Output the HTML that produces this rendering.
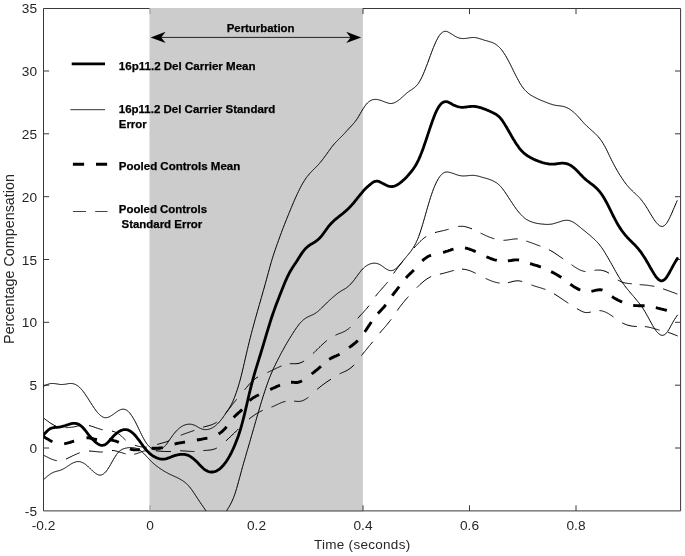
<!DOCTYPE html>
<html lang="en">
<head>
<meta charset="utf-8">
<title>Percentage Compensation vs Time</title>
<style>
html,body{margin:0;padding:0;background:#ffffff;}
body{width:685px;height:556px;overflow:hidden;}
svg{display:block;will-change:transform;}
text{font-family:"Liberation Sans",Arial,Helvetica,sans-serif;}
.tick{font-size:13.7px;fill:#262626;}
.axl{font-size:14px;fill:#262626;}
.leg{font-size:11.4px;font-weight:bold;fill:#000000;stroke:#000000;stroke-width:0.25px;}
</style>
</head>
<body>
<svg width="685" height="556" viewBox="0 0 685 556">
<defs><clipPath id="plot"><rect x="43.5" y="8.5" width="637.1" height="502.4"/></clipPath></defs>
<rect x="0" y="0" width="685" height="556" fill="#ffffff"/>

<g stroke="#383838" stroke-width="1" fill="none">
<path d="M43.5,510.9 L43.5,8.5 L680.6,8.5 L680.6,510.9"/>
</g>
<rect x="149.5" y="8.0" width="213.35" height="502.6" fill="#cccccc"/>
<g stroke="#383838" stroke-width="1" fill="none">
<path d="M43.5,510.9 L680.6,510.9"/>
<path d="M149.5,510.9 L362.85,510.9" stroke="#8a8a8a" stroke-width="1.3"/>
<path d="M150.0,510.9 v-5.6 M150.0,8.5 v5.6" stroke="#9a9a9a"/>
<path d="M363.0,510.9 v-5.6 M363.0,8.5 v5.6"/>
<path d="M469.5,510.9 v-5.6 M469.5,8.5 v5.6"/>
<path d="M576.0,510.9 v-5.6 M576.0,8.5 v5.6"/>
<path d="M43.5,448.0 h5.6 M680.6,448.0 h-5.6"/>
<path d="M43.5,385.2 h5.6 M680.6,385.2 h-5.6"/>
<path d="M43.5,322.3 h5.6 M680.6,322.3 h-5.6"/>
<path d="M43.5,259.5 h5.6 M680.6,259.5 h-5.6"/>
<path d="M43.5,196.7 h5.6 M680.6,196.7 h-5.6"/>
<path d="M43.5,133.8 h5.6 M680.6,133.8 h-5.6"/>
<path d="M43.5,71.0 h5.6 M680.6,71.0 h-5.6"/>
</g>
<g clip-path="url(#plot)" fill="none" stroke="#000000" stroke-linejoin="round">
<path stroke-width="1" d="M43.7,418.2 L44.7,418.9 L45.8,419.7 L46.8,420.5 L47.8,421.2 L48.9,422.0 L49.9,422.7 L50.9,423.4 L52.0,424.0 L53.0,424.6 L54.0,425.2 L55.1,425.7 L56.1,426.1 M65.5,427.6 L66.5,427.6 L67.6,427.6 L68.6,427.5 L69.6,427.4 L70.7,427.3 L71.7,427.2 L72.8,427.1 L73.8,426.9 L74.8,426.7 L75.9,426.5 L76.9,426.2 L77.9,426.0 L79.0,425.8 L80.0,425.6 M89.0,425.5 L90.0,425.8 L91.0,426.0 L91.9,426.3 L92.9,426.6 L93.9,427.0 L94.9,427.3 L95.8,427.7 L96.8,428.0 L97.8,428.4 L98.8,428.7 L99.8,429.0 L100.7,429.3 L101.7,429.6 L102.7,429.8 M112.0,431.1 L113.0,431.3 L113.9,431.6 L114.9,432.0 L115.9,432.4 L116.9,432.8 L117.8,433.4 L118.8,434.0 L119.8,434.7 L120.7,435.5 L121.7,436.4 L122.7,437.4 L123.7,438.3 L124.6,439.2 L125.6,440.1 M134.9,445.2 L135.9,445.6 L136.9,445.9 L137.8,446.2 L138.8,446.4 L139.8,446.6 L140.8,446.8 L141.8,446.9 L142.8,447.1 L143.8,447.1 L144.7,447.1 L145.7,447.1 L146.7,447.1 M157.2,444.4 L158.2,444.2 L159.2,443.9 L160.1,443.6 L161.1,443.3 L162.1,443.1 L163.1,442.8 L164.1,442.5 L165.1,442.2 L166.1,441.9 L167.0,441.6 L168.0,441.2 L169.0,440.9 M180.8,435.3 L181.8,434.9 L182.7,434.5 L183.7,434.1 L184.7,433.8 L185.7,433.4 L186.6,433.1 L187.6,432.7 L188.6,432.4 L189.5,432.1 L190.5,431.7 L191.5,431.4 L192.5,431.1 L193.4,430.7 L194.4,430.4 M203.1,427.2 L204.1,426.9 L205.0,426.6 L206.0,426.4 L207.0,426.1 L208.0,425.9 L208.9,425.6 L209.9,425.3 L210.9,425.0 L211.8,424.7 L212.8,424.3 L213.8,423.8 L214.8,423.3 L215.7,422.8 L216.7,422.1 M225.4,413.5 L226.4,412.3 L227.4,411.0 L228.5,409.7 L229.5,408.4 L230.5,407.1 L231.5,405.7 L232.5,404.4 L233.5,403.1 L234.6,401.8 L235.6,400.5 L236.6,399.3 M244.6,389.8 L245.6,388.6 L246.7,387.3 L247.7,386.1 L248.7,384.9 L249.8,383.7 L250.8,382.6 L251.8,381.5 L252.8,380.5 L253.9,379.7 L254.9,378.9 L255.9,378.2 L257.0,377.5 L258.0,377.0 M267.5,372.5 L268.5,372.0 L269.5,371.5 L270.5,371.1 L271.5,370.6 L272.5,370.1 L273.5,369.6 L274.5,369.1 L275.5,368.7 L276.5,368.2 L277.5,367.7 L278.5,367.3 L279.5,366.8 L280.5,366.4 L281.5,366.0 M289.8,363.7 L290.8,363.7 L291.8,363.7 L292.9,363.7 L293.9,363.7 L294.9,363.7 L295.9,363.7 L297.0,363.6 L298.0,363.5 L299.0,363.3 L300.0,362.9 L301.0,362.6 L302.1,362.1 L303.1,361.6 L304.1,361.0 M313.1,353.5 L314.1,352.6 L315.1,351.6 L316.0,350.6 L317.0,349.7 L318.0,348.7 L319.0,347.7 L320.0,346.8 L320.9,345.8 L321.9,344.9 L322.9,344.0 L323.9,343.1 L324.8,342.2 L325.8,341.4 L326.8,340.6 M335.5,335.2 L336.5,334.7 L337.5,334.3 L338.5,333.9 L339.4,333.5 L340.4,333.2 L341.4,332.8 L342.4,332.4 L343.4,331.9 L344.4,331.5 L345.4,330.9 L346.4,330.3 L347.3,329.7 L348.3,329.0 L349.3,328.2 L350.3,327.2 M357.8,318.4 L358.8,317.2 L359.8,316.0 L360.9,314.9 L361.9,313.8 L362.9,312.8 L363.9,311.7 L364.9,310.5 L365.9,309.4 L367.0,308.2 L368.0,306.9 L369.0,305.6 M375.5,296.3 L376.5,295.0 L377.5,293.7 L378.5,292.5 L379.5,291.4 L380.5,290.3 L381.5,289.1 L382.5,288.0 L383.5,286.9 L384.5,285.8 L385.5,284.6 L386.5,283.4 L387.5,282.2 M393.6,273.5 L394.6,272.0 L395.7,270.5 L396.7,269.1 L397.8,267.7 L398.8,266.3 L399.9,265.0 L400.9,263.6 L402.0,262.3 L403.0,261.0 M414.1,248.0 L415.1,246.8 L416.1,245.7 L417.1,244.6 L418.1,243.6 L419.1,242.5 L420.1,241.5 L421.2,240.6 L422.2,239.6 L423.2,238.7 L424.2,237.9 L425.2,237.2 L426.2,236.5 M435.0,232.6 L436.0,232.3 L436.9,232.1 L437.9,231.8 L438.9,231.6 L439.9,231.4 L440.8,231.2 L441.8,231.0 L442.8,230.7 L443.7,230.5 L444.7,230.3 L445.7,230.0 L446.7,229.8 L447.6,229.5 L448.6,229.2 M458.3,226.5 L459.3,226.3 L460.3,226.3 L461.2,226.3 L462.2,226.3 L463.2,226.4 L464.2,226.5 L465.1,226.7 L466.1,226.9 L467.1,227.2 L468.1,227.5 L469.1,227.8 L470.0,228.1 L471.0,228.5 L472.0,228.9 M480.6,233.1 L481.6,233.6 L482.6,234.0 L483.5,234.5 L484.5,235.0 L485.5,235.4 L486.5,235.9 L487.5,236.3 L488.4,236.7 L489.4,237.1 L490.4,237.5 L491.4,237.8 L492.3,238.2 L493.3,238.5 L494.3,238.8 M503.5,240.3 L504.5,240.3 L505.5,240.2 L506.5,240.1 L507.6,240.0 L508.6,239.8 L509.6,239.7 L510.6,239.5 L511.6,239.4 L512.6,239.2 L513.6,239.1 L514.7,239.0 L515.7,238.9 L516.7,238.9 L517.7,239.0 M526.4,241.1 L527.4,241.4 L528.4,241.8 L529.4,242.1 L530.4,242.5 L531.4,242.8 L532.4,243.2 L533.4,243.6 L534.4,243.9 L535.4,244.3 L536.4,244.7 L537.4,245.1 L538.4,245.4 L539.4,245.8 L540.4,246.2 M548.9,249.7 L549.9,250.3 L550.9,250.8 L552.0,251.4 L553.0,252.0 L554.0,252.6 L555.0,253.3 L556.0,254.0 L557.1,254.7 L558.1,255.3 L559.1,256.1 L560.1,256.8 L561.2,257.5 L562.2,258.2 L563.2,258.9 M571.5,264.7 L572.5,265.4 L573.5,266.1 L574.5,266.8 L575.5,267.4 L576.5,268.0 L577.5,268.6 L578.5,269.2 L579.4,269.7 L580.4,270.1 L581.4,270.5 L582.4,270.9 L583.4,271.2 L584.4,271.4 L585.4,271.5 M594.6,270.4 L595.6,270.2 L596.7,270.1 L597.7,270.1 L598.7,270.1 L599.8,270.1 L600.8,270.2 L601.9,270.4 L602.9,270.6 L603.9,270.9 L605.0,271.2 L606.0,271.6 L607.0,272.1 L608.1,272.7 L609.1,273.3 M617.8,280.0 L618.8,280.6 L619.8,281.1 L620.8,281.6 L621.8,282.0 L622.8,282.3 L623.8,282.6 L624.8,282.9 L625.7,283.1 L626.7,283.2 L627.7,283.4 L628.7,283.5 L629.7,283.6 L630.7,283.7 L631.7,283.8 M639.7,284.6 L640.7,284.7 L641.6,284.8 L642.6,284.8 L643.6,284.9 L644.6,285.0 L645.5,285.1 L646.5,285.2 L647.5,285.3 L648.5,285.4 L649.4,285.6 L650.4,285.7 L651.4,285.9 L652.4,286.0 L653.3,286.2 L654.3,286.4 M663.1,288.9 L664.1,289.2 L665.1,289.6 L666.1,289.9 L667.2,290.3 L668.2,290.7 L669.2,291.0 L670.2,291.4 L671.2,291.8 L672.2,292.2 L673.2,292.5 L674.3,292.9 L675.3,293.3 L676.3,293.7 L677.3,294.1"/>
<path stroke-width="1" d="M43.7,455.4 L44.7,455.8 L45.7,456.3 L46.7,456.8 L47.7,457.3 L48.7,457.8 L49.7,458.3 L50.7,458.7 L51.7,459.2 L52.7,459.5 L53.7,459.9 L54.7,460.2 L55.7,460.5 L56.7,460.7 M66.0,459.1 L67.0,458.6 L68.0,458.1 L68.9,457.7 L69.9,457.2 L70.9,456.7 L71.9,456.2 L72.8,455.7 L73.8,455.3 L74.8,454.8 L75.8,454.4 L76.8,454.0 L77.7,453.5 L78.7,453.2 L79.7,452.8 M89.0,451.0 L90.0,451.1 L91.0,451.1 L91.9,451.2 L92.9,451.3 L93.9,451.4 L94.9,451.5 L95.8,451.6 L96.8,451.7 L97.8,451.8 L98.8,451.9 L99.8,452.0 L100.7,452.0 L101.7,452.0 L102.7,451.9 M112.0,450.5 L113.0,450.5 L113.9,450.6 L114.9,450.8 L115.9,451.0 L116.9,451.2 L117.8,451.5 L118.8,451.8 L119.8,452.1 L120.7,452.4 L121.7,452.7 L122.7,453.0 L123.7,453.3 L124.6,453.6 L125.6,453.9 M134.3,454.2 L135.3,454.0 L136.3,453.7 L137.4,453.4 L138.4,453.0 L139.4,452.7 L140.4,452.3 L141.4,451.9 L142.4,451.6 L143.4,451.2 L144.5,451.0 L145.5,450.7 L146.5,450.6 M156.0,450.8 L157.0,450.9 L158.0,451.0 L159.0,451.1 L160.0,451.1 L161.0,451.2 L162.0,451.3 L163.0,451.4 L163.9,451.4 L164.9,451.5 L165.9,451.5 L166.9,451.5 L167.9,451.5 L168.9,451.5 L169.9,451.5 L170.9,451.5 M180.2,450.8 L181.2,450.8 L182.2,450.9 L183.2,450.9 L184.3,451.0 L185.3,451.0 L186.3,451.1 L187.3,451.2 L188.3,451.3 L189.3,451.3 L190.3,451.4 L191.4,451.4 L192.4,451.5 L193.4,451.5 L194.4,451.5 M203.3,450.6 L204.3,450.5 L205.2,450.4 L206.2,450.4 L207.2,450.3 L208.1,450.2 L209.1,450.1 L210.1,450.0 L211.0,449.9 L212.0,449.7 L212.9,449.5 L213.9,449.2 L214.9,448.9 L215.8,448.5 L216.8,448.0 M226.0,440.8 L227.0,439.9 L228.1,438.9 L229.1,437.9 L230.1,437.0 L231.2,436.0 L232.2,435.0 L233.2,434.0 L234.3,433.0 L235.3,432.0 L236.3,431.0 L237.4,430.0 L238.4,429.0 M249.0,419.1 L250.0,418.3 L250.9,417.5 L251.9,416.8 L252.9,416.1 L253.9,415.4 L254.8,414.7 L255.8,414.1 L256.8,413.5 L257.7,412.9 L258.7,412.3 L259.7,411.8 L260.7,411.3 L261.6,410.9 L262.6,410.4 M271.5,407.1 L272.5,406.7 L273.5,406.3 L274.5,405.8 L275.5,405.3 L276.5,404.9 L277.5,404.4 L278.5,403.9 L279.5,403.5 L280.5,403.0 L281.5,402.6 L282.5,402.2 L283.5,401.9 L284.5,401.6 L285.5,401.4 M294.2,401.1 L295.2,401.2 L296.2,401.3 L297.2,401.4 L298.3,401.4 L299.3,401.4 L300.3,401.3 L301.3,401.1 L302.3,400.8 L303.3,400.4 L304.3,399.9 L305.4,399.3 L306.4,398.7 L307.4,398.0 L308.4,397.2 M317.1,389.4 L318.1,388.5 L319.1,387.7 L320.1,386.9 L321.1,386.1 L322.1,385.3 L323.1,384.6 L324.1,383.9 L325.0,383.2 L326.0,382.5 L327.0,381.8 L328.0,381.1 L329.0,380.5 L330.0,379.8 L331.0,379.2 M339.6,373.9 L340.6,373.4 L341.7,372.9 L342.7,372.4 L343.7,372.0 L344.8,371.5 L345.8,371.0 L346.9,370.5 L347.9,369.9 L348.9,369.2 L350.0,368.5 L351.0,367.7 L352.0,366.9 L353.1,365.9 L354.1,364.8 M361.5,355.6 L362.5,354.3 L363.5,353.0 L364.6,351.7 L365.6,350.5 L366.6,349.2 L367.6,348.0 L368.6,346.8 L369.6,345.5 L370.7,344.3 L371.7,343.0 L372.7,341.8 M379.6,333.2 L380.6,332.0 L381.5,330.9 L382.5,329.8 L383.5,328.7 L384.4,327.6 L385.4,326.5 L386.4,325.4 L387.3,324.2 L388.3,323.0 L389.3,321.8 L390.2,320.6 L391.2,319.3 M397.2,310.6 L398.2,309.2 L399.2,307.8 L400.3,306.4 L401.3,305.1 L402.3,303.8 L403.3,302.5 L404.3,301.3 L405.3,300.1 L406.4,298.9 L407.4,297.7 L408.4,296.6 M416.9,287.6 L417.9,286.6 L418.9,285.6 L419.9,284.6 L421.0,283.7 L422.0,282.8 L423.0,281.9 L424.0,281.1 L425.0,280.3 L426.0,279.5 L427.0,278.8 L428.1,278.2 L429.1,277.6 L430.1,277.0 L431.1,276.6 M439.9,274.1 L440.9,273.9 L441.9,273.7 L442.9,273.4 L443.8,273.2 L444.8,272.9 L445.8,272.7 L446.8,272.4 L447.8,272.1 L448.8,271.8 L449.8,271.6 L450.7,271.3 L451.7,271.0 L452.7,270.7 L453.7,270.5 M462.0,269.1 L463.0,269.2 L464.0,269.3 L464.9,269.4 L465.9,269.6 L466.9,269.8 L467.9,270.1 L468.9,270.4 L469.8,270.7 L470.8,271.1 L471.8,271.5 L472.8,271.9 L473.7,272.4 L474.7,272.8 L475.7,273.3 M485.6,278.4 L486.6,278.9 L487.6,279.3 L488.6,279.8 L489.6,280.2 L490.6,280.6 L491.6,281.0 L492.6,281.4 L493.6,281.7 L494.6,282.0 L495.6,282.3 L496.6,282.5 L497.6,282.7 L498.6,282.9 L499.6,283.0 M507.9,282.7 L508.9,282.5 L509.9,282.2 L511.0,282.0 L512.0,281.7 L513.0,281.4 L514.0,281.2 L515.0,281.0 L516.1,280.9 L517.1,280.8 L518.1,280.8 L519.1,280.9 L520.2,281.1 L521.2,281.3 L522.2,281.5 M531.4,284.9 L532.4,285.3 L533.4,285.7 L534.4,286.0 L535.4,286.3 L536.4,286.6 L537.4,286.9 L538.4,287.2 L539.4,287.5 L540.4,287.8 L541.4,288.1 L542.4,288.4 L543.4,288.8 L544.4,289.1 L545.4,289.5 M554.0,293.8 L555.0,294.4 L556.0,295.0 L557.1,295.7 L558.1,296.3 L559.1,297.0 L560.1,297.7 L561.1,298.4 L562.2,299.1 L563.2,299.8 L564.2,300.5 L565.2,301.1 L566.3,301.8 L567.3,302.5 L568.3,303.2 M576.9,308.6 L577.9,309.2 L578.9,309.8 L579.9,310.3 L580.9,310.9 L581.9,311.3 L582.9,311.8 L583.8,312.1 L584.8,312.4 L585.8,312.5 L586.8,312.6 L587.8,312.5 L588.8,312.4 L589.8,312.3 L590.8,312.0 M599.5,310.6 L600.5,310.7 L601.5,310.8 L602.5,311.1 L603.5,311.4 L604.5,311.7 L605.5,312.1 L606.5,312.6 L607.5,313.1 L608.5,313.7 L609.5,314.3 L610.5,315.0 L611.5,315.6 L612.5,316.3 L613.5,317.0 M622.2,322.9 L623.2,323.4 L624.1,323.8 L625.1,324.2 L626.1,324.6 L627.1,325.0 L628.0,325.2 L629.0,325.5 L630.0,325.7 L631.0,325.9 L631.9,326.1 L632.9,326.2 L633.9,326.3 L634.9,326.4 L635.8,326.4 L636.8,326.5 M644.9,326.6 L645.9,326.7 L646.8,326.8 L647.8,327.0 L648.8,327.2 L649.8,327.4 L650.7,327.6 L651.7,327.9 L652.7,328.2 L653.7,328.4 L654.6,328.7 L655.6,329.0 L656.6,329.3 L657.6,329.6 L658.5,329.9 L659.5,330.2 M668.2,332.4 L669.2,332.7 L670.1,333.0 L671.1,333.4 L672.0,333.7 L673.0,334.1 L673.9,334.5 L674.9,334.8 L675.8,335.2 L676.8,335.6 L677.7,336.0"/>
<path stroke-width="1" d="M43.5,386.3 L44.5,385.8 L45.5,385.3 L46.5,384.8 L47.5,384.4 L48.5,384.1 L49.5,383.8 L50.5,383.6 L51.5,383.5 L52.5,383.5 L53.5,383.5 L54.5,383.6 L55.5,383.7 L56.5,383.9 L57.5,384.0 L58.5,384.2 L59.5,384.4 L60.5,384.5 L61.5,384.5 L62.5,384.5 L63.5,384.4 L64.5,384.3 L65.5,384.2 L66.5,384.0 L67.5,383.8 L68.5,383.6 L69.5,383.5 L70.5,383.5 L71.5,383.5 L72.5,383.6 L73.5,383.8 L74.5,384.1 L75.5,384.5 L76.5,385.1 L77.5,385.7 L78.5,386.4 L79.5,387.3 L80.5,388.3 L81.5,389.4 L82.5,390.6 L83.5,391.9 L84.5,393.2 L85.5,394.7 L86.5,396.2 L87.5,397.7 L88.5,399.2 L89.5,400.8 L90.5,402.4 L91.5,404.0 L92.5,405.5 L93.5,407.1 L94.5,408.5 L95.5,409.9 L96.5,411.3 L97.5,412.5 L98.5,413.6 L99.5,414.6 L100.5,415.5 L101.5,416.2 L102.5,416.8 L103.5,417.3 L104.5,417.6 L105.5,417.7 L106.5,417.6 L107.5,417.5 L108.5,417.1 L109.5,416.7 L110.5,416.2 L111.5,415.5 L112.5,414.9 L113.5,414.2 L114.5,413.4 L115.5,412.7 L116.5,412.0 L117.5,411.3 L118.5,410.7 L119.5,410.2 L120.5,409.7 L121.5,409.4 L122.5,409.2 L123.5,409.2 L124.5,409.3 L125.5,409.6 L126.5,410.1 L127.5,410.8 L128.5,411.7 L129.5,412.7 L130.5,414.0 L131.5,415.4 L132.5,416.9 L133.5,418.6 L134.5,420.3 L135.5,422.2 L136.5,424.2 L137.5,426.2 L138.5,428.3 L139.5,430.4 L140.5,432.5 L141.5,434.5 L142.5,436.5 L143.5,438.4 L144.5,440.2 L145.5,441.8 L146.5,443.3 L147.5,444.6 L148.5,445.8 L149.5,446.8 L150.5,447.6 L151.5,448.4 L152.5,448.9 L153.5,449.4 L154.5,449.7 L155.5,449.8 L156.5,449.9 L157.5,449.8 L158.5,449.6 L159.5,449.3 L160.5,449.0 L161.5,448.5 L162.5,448.0 L163.5,447.3 L164.5,446.4 L165.5,445.4 L166.5,444.2 L167.5,442.9 L168.5,441.5 L169.5,440.0 L170.5,438.5 L171.5,437.1 L172.5,435.7 L173.5,434.3 L174.5,433.1 L175.5,431.9 L176.5,430.8 L177.5,429.8 L178.5,428.9 L179.5,428.0 L180.5,427.3 L181.5,426.6 L182.5,426.0 L183.5,425.5 L184.5,425.1 L185.5,424.8 L186.5,424.5 L187.5,424.3 L188.5,424.2 L189.5,424.2 L190.5,424.2 L191.5,424.3 L192.5,424.6 L193.5,424.9 L194.5,425.2 L195.5,425.7 L196.5,426.2 L197.5,426.8 L198.5,427.4 L199.5,428.0 L200.5,428.4 L201.5,428.8 L202.4,429.2 L203.4,429.4 L204.4,429.6 L205.4,429.6 L206.4,429.6 L207.4,429.5 L208.4,429.3 L209.4,429.1 L210.4,428.7 L211.4,428.3 L212.4,427.8 L213.4,427.2 L214.4,426.5 L215.4,425.8 L216.4,424.9 L217.4,424.0 L218.4,423.0 L219.4,421.9 L220.4,420.8 L221.4,419.5 L222.4,418.2 L223.4,416.8 L224.4,415.4 L225.4,413.9 L226.4,412.5 L227.4,411.0 L228.4,409.5 L229.4,407.9 L230.4,406.2 L231.4,404.4 L232.4,402.3 L233.4,400.1 L234.4,397.7 L235.4,395.1 L236.4,392.3 L237.4,389.3 L238.4,386.1 L239.4,382.7 L240.4,379.1 L241.4,375.2 L242.4,371.1 L243.4,366.8 L244.4,362.5 L245.4,358.1 L246.4,353.8 L247.4,349.5 L248.4,345.3 L249.4,341.2 L250.4,337.3 L251.4,333.4 L252.4,329.6 L253.4,325.9 L254.4,322.2 L255.4,318.6 L256.4,315.1 L257.4,311.5 L258.4,308.0 L259.4,304.5 L260.4,301.0 L261.4,297.5 L262.4,294.0 L263.4,290.5 L264.4,287.0 L265.4,283.4 L266.4,279.8 L267.4,276.1 L268.4,272.4 L269.4,268.8 L270.4,265.1 L271.4,261.7 L272.4,258.3 L273.4,255.2 L274.4,252.1 L275.4,249.2 L276.4,246.3 L277.4,243.5 L278.4,240.7 L279.4,238.0 L280.4,235.3 L281.4,232.6 L282.4,229.9 L283.4,227.3 L284.4,224.7 L285.4,222.2 L286.4,219.7 L287.4,217.2 L288.4,214.7 L289.4,212.3 L290.4,209.8 L291.4,207.4 L292.4,205.1 L293.4,202.7 L294.4,200.4 L295.4,198.1 L296.4,195.9 L297.4,193.7 L298.4,191.6 L299.4,189.6 L300.4,187.6 L301.4,185.7 L302.4,183.9 L303.4,182.2 L304.4,180.6 L305.4,179.1 L306.4,177.6 L307.4,176.3 L308.4,175.1 L309.4,173.9 L310.4,172.8 L311.4,171.7 L312.4,170.7 L313.4,169.7 L314.4,168.7 L315.4,167.7 L316.4,166.7 L317.4,165.7 L318.4,164.6 L319.4,163.5 L320.4,162.3 L321.4,161.1 L322.4,159.8 L323.4,158.5 L324.4,157.1 L325.4,155.8 L326.4,154.4 L327.4,153.0 L328.4,151.6 L329.4,150.2 L330.4,148.9 L331.4,147.5 L332.4,146.2 L333.4,145.0 L334.4,143.8 L335.4,142.7 L336.4,141.6 L337.4,140.6 L338.4,139.6 L339.4,138.6 L340.4,137.6 L341.4,136.6 L342.4,135.6 L343.4,134.6 L344.4,133.5 L345.4,132.4 L346.4,131.3 L347.4,130.2 L348.4,129.1 L349.4,128.0 L350.4,127.0 L351.4,125.9 L352.4,124.8 L353.4,123.7 L354.4,122.5 L355.4,121.2 L356.4,119.9 L357.4,118.4 L358.4,116.8 L359.4,115.1 L360.4,113.4 L361.4,111.7 L362.4,110.0 L363.4,108.4 L364.4,106.8 L365.4,105.4 L366.4,104.1 L367.4,103.0 L368.4,102.1 L369.4,101.3 L370.4,100.7 L371.4,100.2 L372.4,99.8 L373.4,99.6 L374.4,99.4 L375.4,99.4 L376.4,99.4 L377.4,99.6 L378.4,99.7 L379.4,100.0 L380.4,100.3 L381.4,100.6 L382.4,101.0 L383.4,101.4 L384.4,101.8 L385.4,102.2 L386.4,102.5 L387.4,102.9 L388.4,103.1 L389.4,103.4 L390.4,103.5 L391.4,103.5 L392.4,103.3 L393.4,103.1 L394.4,102.7 L395.4,102.3 L396.4,101.7 L397.4,101.1 L398.4,100.4 L399.4,99.6 L400.4,98.8 L401.4,97.9 L402.4,97.0 L403.4,96.1 L404.4,95.2 L405.4,94.3 L406.4,93.4 L407.4,92.6 L408.4,91.8 L409.4,91.1 L410.4,90.4 L411.4,89.8 L412.4,89.1 L413.4,88.4 L414.4,87.7 L415.4,86.8 L416.4,85.8 L417.4,84.7 L418.4,83.4 L419.4,81.8 L420.4,80.1 L421.4,78.2 L422.4,76.1 L423.4,73.8 L424.4,71.4 L425.4,68.9 L426.4,66.3 L427.4,63.7 L428.4,61.0 L429.4,58.2 L430.4,55.5 L431.4,52.8 L432.4,50.2 L433.4,47.6 L434.4,45.2 L435.4,42.9 L436.4,40.8 L437.4,38.8 L438.4,37.0 L439.4,35.5 L440.4,34.2 L441.4,33.1 L442.4,32.3 L443.4,31.8 L444.4,31.4 L445.4,31.3 L446.4,31.4 L447.4,31.7 L448.4,32.2 L449.4,32.7 L450.4,33.3 L451.4,33.9 L452.4,34.5 L453.4,35.2 L454.4,35.8 L455.4,36.4 L456.4,36.9 L457.4,37.4 L458.4,37.8 L459.4,38.1 L460.4,38.3 L461.4,38.5 L462.4,38.5 L463.4,38.6 L464.4,38.5 L465.4,38.4 L466.4,38.3 L467.4,38.2 L468.4,38.0 L469.4,37.9 L470.4,37.7 L471.4,37.6 L472.4,37.5 L473.4,37.5 L474.4,37.5 L475.4,37.6 L476.4,37.8 L477.4,38.0 L478.4,38.3 L479.4,38.6 L480.4,38.9 L481.4,39.2 L482.4,39.5 L483.4,39.9 L484.4,40.2 L485.4,40.5 L486.4,40.7 L487.4,41.0 L488.4,41.3 L489.4,41.6 L490.4,41.9 L491.4,42.2 L492.4,42.6 L493.4,43.0 L494.4,43.6 L495.4,44.1 L496.4,44.8 L497.4,45.6 L498.4,46.4 L499.4,47.4 L500.4,48.4 L501.4,49.6 L502.4,50.9 L503.4,52.3 L504.4,53.8 L505.4,55.4 L506.4,57.1 L507.4,58.9 L508.4,60.7 L509.4,62.6 L510.4,64.6 L511.4,66.6 L512.4,68.6 L513.4,70.7 L514.4,72.7 L515.4,74.7 L516.4,76.6 L517.4,78.5 L518.4,80.4 L519.3,82.1 L520.3,83.8 L521.3,85.3 L522.3,86.8 L523.3,88.1 L524.3,89.4 L525.3,90.5 L526.3,91.5 L527.3,92.4 L528.3,93.3 L529.3,94.1 L530.3,94.8 L531.3,95.4 L532.3,96.0 L533.3,96.6 L534.3,97.1 L535.3,97.6 L536.3,98.1 L537.3,98.6 L538.3,99.1 L539.3,99.5 L540.3,100.0 L541.3,100.4 L542.3,100.8 L543.3,101.2 L544.3,101.6 L545.3,102.0 L546.3,102.4 L547.3,102.8 L548.3,103.2 L549.3,103.6 L550.3,103.9 L551.3,104.2 L552.3,104.6 L553.3,104.8 L554.3,105.1 L555.3,105.3 L556.3,105.4 L557.3,105.6 L558.3,105.7 L559.3,105.8 L560.3,105.9 L561.3,106.1 L562.3,106.2 L563.3,106.5 L564.3,106.7 L565.3,107.1 L566.3,107.5 L567.3,107.9 L568.3,108.4 L569.3,109.0 L570.3,109.6 L571.3,110.3 L572.3,111.1 L573.3,111.9 L574.3,112.7 L575.3,113.7 L576.3,114.7 L577.3,115.7 L578.3,116.8 L579.3,117.9 L580.3,119.0 L581.3,120.2 L582.3,121.3 L583.3,122.4 L584.3,123.5 L585.3,124.5 L586.3,125.5 L587.3,126.5 L588.3,127.4 L589.3,128.3 L590.3,129.2 L591.3,130.1 L592.3,131.0 L593.3,131.9 L594.3,132.8 L595.3,133.7 L596.3,134.7 L597.3,135.7 L598.3,136.8 L599.3,138.0 L600.3,139.3 L601.3,140.6 L602.3,142.1 L603.3,143.7 L604.3,145.5 L605.3,147.3 L606.3,149.2 L607.3,151.2 L608.3,153.3 L609.3,155.4 L610.3,157.5 L611.3,159.5 L612.3,161.5 L613.3,163.4 L614.3,165.3 L615.3,167.2 L616.3,169.0 L617.3,170.7 L618.3,172.4 L619.3,174.1 L620.3,175.7 L621.3,177.2 L622.3,178.7 L623.3,180.2 L624.3,181.6 L625.3,183.0 L626.3,184.3 L627.3,185.5 L628.3,186.7 L629.3,187.9 L630.3,188.9 L631.3,189.9 L632.3,190.9 L633.3,191.8 L634.3,192.8 L635.3,193.7 L636.3,194.6 L637.3,195.6 L638.3,196.6 L639.3,197.6 L640.3,198.7 L641.3,199.9 L642.3,201.2 L643.3,202.5 L644.3,203.9 L645.3,205.3 L646.3,206.9 L647.3,208.5 L648.3,210.1 L649.3,211.8 L650.3,213.5 L651.3,215.1 L652.3,216.8 L653.3,218.4 L654.3,219.9 L655.3,221.3 L656.3,222.6 L657.3,223.7 L658.3,224.7 L659.3,225.5 L660.3,226.1 L661.3,226.4 L662.3,226.4 L663.3,226.2 L664.3,225.6 L665.3,224.8 L666.3,223.7 L667.3,222.2 L668.3,220.5 L669.3,218.6 L670.3,216.5 L671.3,214.3 L672.3,212.0 L673.3,209.6 L674.3,207.3 L675.3,205.0 L676.3,202.7 L677.3,200.4"/>
<path stroke-width="1" d="M43.5,479.7 L44.5,478.7 L45.5,477.9 L46.5,477.0 L47.5,476.1 L48.5,475.4 L49.5,474.6 L50.5,473.9 L51.5,473.3 L52.5,472.8 L53.5,472.3 L54.5,471.9 L55.5,471.6 L56.5,471.3 L57.5,471.0 L58.5,470.8 L59.5,470.5 L60.5,470.2 L61.5,469.8 L62.5,469.3 L63.5,468.8 L64.5,468.3 L65.5,467.6 L66.5,467.0 L67.5,466.3 L68.5,465.6 L69.5,465.0 L70.5,464.3 L71.5,463.7 L72.5,463.2 L73.5,462.7 L74.5,462.3 L75.5,462.0 L76.5,461.7 L77.5,461.6 L78.5,461.6 L79.5,461.6 L80.5,461.8 L81.5,462.2 L82.5,462.6 L83.5,463.1 L84.5,463.7 L85.5,464.4 L86.5,465.2 L87.5,466.0 L88.5,467.0 L89.5,467.9 L90.5,468.9 L91.5,469.8 L92.5,470.8 L93.5,471.7 L94.5,472.5 L95.5,473.3 L96.5,473.9 L97.5,474.5 L98.5,474.9 L99.5,475.1 L100.5,475.1 L101.5,474.9 L102.5,474.5 L103.5,473.9 L104.5,473.1 L105.5,472.1 L106.5,470.9 L107.5,469.5 L108.5,468.0 L109.5,466.4 L110.5,464.6 L111.5,462.9 L112.5,461.1 L113.5,459.4 L114.5,457.7 L115.5,456.1 L116.5,454.6 L117.5,453.3 L118.5,452.1 L119.5,451.2 L120.5,450.4 L121.5,449.8 L122.5,449.2 L123.5,448.8 L124.5,448.5 L125.5,448.2 L126.5,448.0 L127.5,447.8 L128.5,447.7 L129.5,447.6 L130.5,447.6 L131.5,447.6 L132.5,447.6 L133.5,447.7 L134.5,447.9 L135.5,448.1 L136.5,448.4 L137.5,448.8 L138.5,449.4 L139.5,450.0 L140.5,450.7 L141.5,451.4 L142.5,452.3 L143.5,453.2 L144.5,454.2 L145.5,455.2 L146.5,456.3 L147.5,457.4 L148.5,458.5 L149.5,459.6 L150.5,460.6 L151.5,461.6 L152.5,462.6 L153.5,463.5 L154.5,464.3 L155.5,465.2 L156.5,466.0 L157.5,466.7 L158.5,467.5 L159.5,468.2 L160.5,468.8 L161.5,469.5 L162.5,470.1 L163.5,470.8 L164.5,471.4 L165.5,471.9 L166.5,472.5 L167.5,473.0 L168.5,473.6 L169.5,474.1 L170.5,474.6 L171.5,475.0 L172.5,475.5 L173.5,476.0 L174.5,476.4 L175.5,476.9 L176.5,477.3 L177.5,477.8 L178.5,478.3 L179.5,478.8 L180.5,479.4 L181.5,480.0 L182.5,480.6 L183.5,481.3 L184.5,482.0 L185.5,482.8 L186.5,483.7 L187.5,484.7 L188.5,485.7 L189.5,486.9 L190.5,488.1 L191.5,489.4 L192.5,490.8 L193.5,492.3 L194.5,493.8 L195.5,495.3 L196.5,496.9 L197.5,498.4 L198.5,499.9 L199.5,501.4 L200.5,502.9 L201.5,504.4 L202.6,505.9 L203.6,507.4 L204.6,508.9 L205.6,510.3 L206.6,511.8 L207.6,513.3 L208.6,514.8 L209.6,516.1 L210.6,517.4 L211.6,518.5 L212.6,519.4 L213.6,520.1 L214.6,520.5 L215.6,520.8 L216.6,520.8 L217.6,520.5 L218.6,520.0 L219.6,519.3 L220.6,518.4 L221.6,517.4 L222.6,516.2 L223.6,515.0 L224.6,513.6 L225.6,512.2 L226.6,510.7 L227.6,509.2 L228.6,507.6 L229.6,505.9 L230.6,504.1 L231.6,502.1 L232.6,499.9 L233.6,497.5 L234.6,494.8 L235.6,491.8 L236.6,488.5 L237.6,485.1 L238.6,481.4 L239.6,477.7 L240.6,474.0 L241.6,470.3 L242.6,466.7 L243.6,463.2 L244.6,459.7 L245.6,456.3 L246.6,452.8 L247.6,449.4 L248.6,446.0 L249.6,442.5 L250.6,439.1 L251.6,435.6 L252.6,432.1 L253.6,428.6 L254.6,425.2 L255.6,421.7 L256.6,418.2 L257.6,414.8 L258.6,411.4 L259.6,408.0 L260.6,404.6 L261.6,401.3 L262.6,398.1 L263.6,394.9 L264.6,391.8 L265.6,388.8 L266.6,385.9 L267.6,383.1 L268.6,380.3 L269.6,377.7 L270.6,375.2 L271.6,372.8 L272.6,370.5 L273.6,368.3 L274.6,366.2 L275.6,364.2 L276.6,362.1 L277.6,360.2 L278.6,358.2 L279.6,356.3 L280.6,354.3 L281.6,352.4 L282.6,350.6 L283.6,348.8 L284.6,347.0 L285.6,345.2 L286.6,343.5 L287.6,341.8 L288.6,340.1 L289.6,338.5 L290.6,336.9 L291.6,335.3 L292.6,333.7 L293.6,332.1 L294.6,330.6 L295.6,329.1 L296.6,327.7 L297.6,326.3 L298.6,324.9 L299.6,323.7 L300.6,322.5 L301.6,321.5 L302.6,320.5 L303.6,319.6 L304.6,318.9 L305.6,318.2 L306.6,317.6 L307.6,317.0 L308.6,316.6 L309.6,316.1 L310.6,315.7 L311.6,315.2 L312.6,314.8 L313.6,314.3 L314.6,313.7 L315.6,313.1 L316.6,312.4 L317.6,311.6 L318.6,310.8 L319.6,309.9 L320.6,308.9 L321.6,308.0 L322.6,307.0 L323.6,306.0 L324.6,305.0 L325.6,304.0 L326.6,303.0 L327.6,302.0 L328.6,301.1 L329.6,300.2 L330.6,299.3 L331.6,298.4 L332.6,297.5 L333.6,296.6 L334.6,295.8 L335.6,295.0 L336.6,294.2 L337.6,293.4 L338.6,292.6 L339.6,292.0 L340.6,291.3 L341.6,290.7 L342.6,290.1 L343.6,289.6 L344.6,289.0 L345.6,288.4 L346.6,287.7 L347.6,286.9 L348.6,286.1 L349.6,285.2 L350.6,284.1 L351.6,283.0 L352.6,281.9 L353.6,280.7 L354.6,279.4 L355.6,278.0 L356.6,276.7 L357.6,275.3 L358.6,273.9 L359.6,272.6 L360.6,271.3 L361.6,270.1 L362.6,269.0 L363.6,268.0 L364.6,267.1 L365.6,266.4 L366.6,265.7 L367.6,265.1 L368.6,264.6 L369.6,264.1 L370.6,263.8 L371.6,263.5 L372.6,263.3 L373.6,263.2 L374.6,263.2 L375.6,263.3 L376.6,263.4 L377.6,263.7 L378.6,264.0 L379.6,264.5 L380.6,265.0 L381.6,265.7 L382.6,266.4 L383.6,267.1 L384.6,267.9 L385.6,268.6 L386.6,269.2 L387.6,269.7 L388.6,270.2 L389.6,270.5 L390.6,270.6 L391.6,270.6 L392.6,270.4 L393.6,270.1 L394.6,269.5 L395.6,268.8 L396.6,268.0 L397.6,267.1 L398.6,266.0 L399.6,264.9 L400.6,263.8 L401.6,262.6 L402.6,261.3 L403.6,260.1 L404.6,258.9 L405.6,257.7 L406.6,256.5 L407.6,255.3 L408.6,254.1 L409.6,252.9 L410.6,251.6 L411.6,250.2 L412.6,248.7 L413.6,247.2 L414.6,245.4 L415.6,243.6 L416.6,241.5 L417.6,239.3 L418.6,236.8 L419.6,234.0 L420.6,231.0 L421.6,227.9 L422.6,224.6 L423.6,221.2 L424.6,217.7 L425.6,214.2 L426.6,210.7 L427.6,207.2 L428.6,203.8 L429.6,200.5 L430.6,197.3 L431.6,194.3 L432.6,191.4 L433.6,188.7 L434.6,186.3 L435.6,184.0 L436.6,181.9 L437.6,180.0 L438.6,178.3 L439.6,176.8 L440.6,175.6 L441.6,174.5 L442.6,173.6 L443.6,172.9 L444.6,172.4 L445.6,172.1 L446.6,172.0 L447.6,172.0 L448.6,172.1 L449.6,172.4 L450.6,172.6 L451.6,172.9 L452.6,173.3 L453.6,173.6 L454.6,174.0 L455.6,174.3 L456.6,174.7 L457.6,175.0 L458.6,175.3 L459.6,175.5 L460.6,175.7 L461.6,175.9 L462.6,175.9 L463.6,176.0 L464.6,175.9 L465.6,175.9 L466.6,175.8 L467.6,175.7 L468.6,175.6 L469.6,175.5 L470.6,175.4 L471.6,175.4 L472.6,175.3 L473.6,175.4 L474.6,175.5 L475.6,175.6 L476.6,175.8 L477.6,176.0 L478.6,176.2 L479.6,176.5 L480.6,176.8 L481.6,177.1 L482.6,177.4 L483.6,177.7 L484.6,177.9 L485.6,178.2 L486.6,178.5 L487.6,178.8 L488.6,179.1 L489.6,179.5 L490.6,179.8 L491.6,180.2 L492.6,180.7 L493.6,181.2 L494.6,181.7 L495.6,182.3 L496.6,182.9 L497.6,183.7 L498.6,184.5 L499.6,185.4 L500.6,186.4 L501.6,187.6 L502.6,188.8 L503.6,190.2 L504.6,191.6 L505.6,193.0 L506.6,194.5 L507.6,196.1 L508.6,197.6 L509.6,199.2 L510.6,200.7 L511.6,202.2 L512.6,203.7 L513.6,205.2 L514.6,206.6 L515.6,208.1 L516.6,209.4 L517.6,210.8 L518.6,212.0 L519.7,213.2 L520.7,214.4 L521.7,215.4 L522.7,216.4 L523.7,217.3 L524.7,218.2 L525.7,218.9 L526.7,219.6 L527.7,220.1 L528.7,220.7 L529.7,221.1 L530.7,221.6 L531.7,221.9 L532.7,222.3 L533.7,222.6 L534.7,222.8 L535.7,223.1 L536.7,223.3 L537.7,223.5 L538.7,223.6 L539.7,223.8 L540.7,223.9 L541.7,224.0 L542.7,224.1 L543.7,224.2 L544.7,224.3 L545.7,224.4 L546.7,224.4 L547.7,224.4 L548.7,224.4 L549.7,224.3 L550.7,224.2 L551.7,224.1 L552.7,223.9 L553.7,223.6 L554.7,223.3 L555.7,223.1 L556.7,222.7 L557.7,222.4 L558.7,222.1 L559.7,221.8 L560.7,221.4 L561.7,221.1 L562.7,220.8 L563.7,220.6 L564.7,220.4 L565.7,220.3 L566.7,220.3 L567.7,220.3 L568.7,220.4 L569.7,220.7 L570.7,221.0 L571.7,221.4 L572.7,221.9 L573.7,222.4 L574.7,223.1 L575.7,223.8 L576.7,224.5 L577.7,225.3 L578.7,226.1 L579.7,226.9 L580.7,227.7 L581.7,228.6 L582.7,229.4 L583.7,230.2 L584.7,231.0 L585.7,231.8 L586.7,232.6 L587.7,233.5 L588.7,234.3 L589.7,235.1 L590.7,236.0 L591.7,236.9 L592.7,237.8 L593.7,238.7 L594.7,239.6 L595.7,240.6 L596.7,241.6 L597.7,242.7 L598.7,243.8 L599.7,245.0 L600.7,246.3 L601.7,247.7 L602.7,249.1 L603.7,250.7 L604.7,252.3 L605.7,253.9 L606.7,255.6 L607.7,257.3 L608.7,259.0 L609.7,260.8 L610.7,262.5 L611.7,264.3 L612.7,266.1 L613.7,267.9 L614.7,269.7 L615.7,271.5 L616.7,273.2 L617.7,275.0 L618.7,276.7 L619.7,278.3 L620.7,279.9 L621.7,281.5 L622.7,282.9 L623.7,284.3 L624.7,285.7 L625.7,287.0 L626.7,288.3 L627.7,289.5 L628.7,290.7 L629.7,291.9 L630.7,293.1 L631.7,294.3 L632.7,295.4 L633.7,296.6 L634.7,297.8 L635.7,299.0 L636.7,300.2 L637.7,301.4 L638.7,302.6 L639.7,303.9 L640.7,305.2 L641.7,306.6 L642.7,308.0 L643.7,309.6 L644.7,311.2 L645.7,312.9 L646.7,314.7 L647.7,316.5 L648.7,318.3 L649.7,320.2 L650.7,322.0 L651.7,323.8 L652.7,325.6 L653.7,327.3 L654.7,328.8 L655.7,330.3 L656.7,331.6 L657.7,332.7 L658.7,333.7 L659.7,334.4 L660.7,335.0 L661.7,335.3 L662.7,335.3 L663.7,335.1 L664.7,334.6 L665.7,333.8 L666.7,332.7 L667.7,331.4 L668.7,329.8 L669.7,328.1 L670.7,326.2 L671.7,324.4 L672.7,322.5 L673.7,320.8 L674.7,319.2 L675.7,317.7 L676.7,316.2 L677.7,314.8"/>
<path stroke-width="2.9" d="M43.7,436.7 L44.7,437.3 L45.6,437.9 L46.6,438.5 L47.6,439.1 L48.5,439.6 L49.5,440.2 L50.5,440.7 L51.4,441.2 L52.4,441.7 M64.2,443.8 L65.2,443.6 L66.2,443.4 L67.2,443.2 L68.2,442.9 L69.2,442.7 L70.1,442.3 L71.1,442.0 L72.1,441.7 L73.1,441.3 L74.1,441.0 M86.5,437.8 L87.5,437.8 L88.6,437.9 L89.7,438.1 L90.7,438.2 L91.8,438.5 L92.8,438.7 L93.8,439.0 L94.9,439.3 L96.0,439.5 L97.0,439.7 M108.9,439.8 L109.9,439.9 L110.9,440.0 L111.9,440.2 L112.9,440.3 L113.8,440.6 L114.8,440.8 L115.8,441.1 L116.8,441.5 L117.8,441.9 L118.8,442.4 M129.9,448.8 L130.9,449.2 L131.9,449.5 L132.9,449.7 L133.9,449.8 L134.9,449.9 L135.9,449.9 L136.9,449.9 L137.9,449.8 L138.9,449.7 L139.9,449.7 M151.6,448.4 L152.6,448.3 L153.6,448.2 L154.7,448.2 L155.7,448.2 L156.7,448.1 L157.7,448.1 L158.7,448.1 L159.7,448.0 L160.8,447.9 L161.8,447.8 L162.8,447.6 M174.6,444.0 L175.7,443.8 L176.7,443.5 L177.8,443.3 L178.8,443.1 L179.8,442.9 L180.9,442.7 L181.9,442.6 L183.0,442.4 L184.0,442.2 L185.1,442.1 M196.9,440.0 L198.0,439.8 L199.0,439.7 L200.1,439.5 L201.1,439.3 L202.2,439.1 L203.2,438.9 L204.2,438.7 L205.3,438.5 L206.3,438.3 L207.4,438.1 M218.6,434.0 L219.6,433.3 L220.6,432.6 L221.6,431.8 L222.6,431.0 L223.6,430.0 L224.6,429.0 L225.6,427.9 L226.6,426.7 M233.7,417.5 L234.8,416.3 L235.8,415.3 L236.8,414.4 L237.9,413.4 L238.9,412.5 L240.0,411.6 L241.0,410.6 L242.1,409.5 M249.6,400.7 L250.6,399.7 L251.7,398.9 L252.7,398.1 L253.7,397.5 L254.8,396.9 L255.8,396.3 L256.8,395.8 L257.9,395.3 L258.9,394.8 M270.1,389.5 L271.1,389.1 L272.1,388.6 L273.1,388.2 L274.1,387.7 L275.1,387.3 L276.0,386.9 L277.0,386.4 L278.0,386.0 L279.0,385.6 L280.0,385.2 M291.0,382.2 L292.0,382.2 L293.0,382.3 L294.0,382.4 L295.0,382.5 L296.0,382.5 L297.0,382.5 L298.0,382.3 L299.0,382.0 L300.0,381.7 L301.0,381.3 L302.0,380.8 M311.7,374.0 L312.7,373.1 L313.8,372.3 L314.8,371.5 L315.8,370.7 L316.9,369.8 L317.9,369.0 L318.9,368.1 L320.0,367.2 L321.0,366.3 M329.1,359.3 L330.2,358.7 L331.2,358.1 L332.2,357.6 L333.3,357.1 L334.4,356.6 L335.4,356.2 L336.5,355.8 L337.5,355.3 L338.6,354.8 L339.6,354.3 M349.1,347.6 L350.1,346.9 L351.0,346.2 L352.0,345.5 L353.0,344.7 L353.9,344.0 L354.9,343.2 L355.9,342.4 L356.8,341.5 L357.8,340.5 M364.7,331.9 L365.7,330.5 L366.6,329.1 L367.6,327.7 L368.5,326.2 L369.5,324.8 L370.4,323.4 L371.4,322.0 M377.9,313.6 L378.9,312.5 L379.9,311.4 L380.9,310.4 L381.9,309.3 L382.8,308.3 L383.8,307.2 L384.8,306.0 L385.8,304.8 M392.2,295.7 L393.2,294.3 L394.2,293.0 L395.2,291.7 L396.2,290.5 L397.2,289.2 L398.2,287.9 L399.2,286.6 M406.0,277.9 L407.0,276.8 L408.0,275.8 L409.0,274.8 L409.9,273.9 L410.9,272.9 L411.9,272.0 L412.9,271.0 L413.9,270.0 M422.3,260.8 L423.3,259.9 L424.2,259.1 L425.2,258.4 L426.2,257.7 L427.1,257.1 L428.1,256.5 L429.1,256.0 L430.0,255.6 L431.0,255.2 M443.0,252.3 L444.1,252.1 L445.1,251.8 L446.1,251.4 L447.2,251.1 L448.2,250.8 L449.3,250.4 L450.4,250.1 L451.4,249.7 L452.4,249.4 L453.5,249.1 M465.0,248.0 L466.0,248.2 L466.9,248.4 L467.9,248.7 L468.9,248.9 L469.9,249.3 L470.8,249.6 L471.8,250.0 L472.8,250.4 L473.8,250.8 L474.7,251.2 L475.7,251.7 M486.4,256.7 L487.4,257.2 L488.5,257.6 L489.5,258.0 L490.6,258.5 L491.6,258.8 L492.6,259.2 L493.7,259.6 L494.7,259.9 L495.8,260.1 L496.8,260.4 M507.9,260.9 L508.9,260.7 L509.9,260.6 L511.0,260.5 L512.0,260.3 L513.0,260.2 L514.0,260.0 L515.0,259.9 L516.0,259.9 L517.1,259.9 L518.1,259.9 L519.1,260.0 M530.1,263.5 L531.1,263.8 L532.1,264.2 L533.0,264.5 L534.0,264.8 L535.0,265.1 L536.0,265.4 L537.0,265.7 L538.0,266.0 L538.9,266.3 L539.9,266.7 L540.9,267.0 M551.1,271.6 L552.1,272.1 L553.1,272.6 L554.2,273.2 L555.2,273.8 L556.2,274.3 L557.2,274.9 L558.2,275.5 L559.3,276.2 L560.3,276.8 L561.3,277.5 M570.3,284.2 L571.3,284.9 L572.3,285.6 L573.3,286.3 L574.3,286.9 L575.3,287.5 L576.3,288.1 L577.3,288.6 L578.3,289.1 L579.3,289.6 L580.3,290.0 M591.4,291.3 L592.4,291.1 L593.4,290.9 L594.4,290.7 L595.4,290.4 L596.4,290.2 L597.5,290.0 L598.5,289.9 L599.5,289.8 L600.5,289.8 L601.5,289.9 L602.5,290.2 M612.0,296.5 L613.0,297.2 L614.0,297.9 L615.1,298.5 L616.1,299.1 L617.1,299.6 L618.1,300.2 L619.1,300.7 L620.2,301.1 L621.2,301.6 L622.2,302.0 M633.2,305.4 L634.2,305.5 L635.3,305.6 L636.3,305.6 L637.3,305.6 L638.4,305.7 L639.4,305.7 L640.5,305.7 L641.5,305.7 L642.5,305.7 L643.6,305.7 L644.6,305.7 M655.8,307.6 L656.8,307.8 L657.8,308.1 L658.8,308.3 L659.8,308.6 L660.8,308.9 L661.8,309.1 L662.8,309.4 L663.8,309.7 L664.8,309.9 L665.8,310.2 L666.8,310.5"/>
<path stroke-width="2.8" stroke-linecap="round" d="M43.5,435.1 L44.5,433.9 L45.5,432.8 L46.5,431.7 L47.5,430.7 L48.5,429.8 L49.5,429.1 L50.5,428.5 L51.5,428.1 L52.5,427.8 L53.5,427.6 L54.5,427.5 L55.5,427.4 L56.5,427.4 L57.5,427.3 L58.5,427.2 L59.5,427.1 L60.5,426.9 L61.5,426.7 L62.5,426.4 L63.5,426.1 L64.5,425.8 L65.5,425.5 L66.5,425.1 L67.5,424.8 L68.5,424.5 L69.5,424.1 L70.5,423.9 L71.5,423.6 L72.5,423.4 L73.5,423.3 L74.5,423.3 L75.5,423.4 L76.5,423.6 L77.5,423.9 L78.5,424.3 L79.5,424.8 L80.5,425.5 L81.5,426.3 L82.5,427.2 L83.5,428.3 L84.5,429.5 L85.5,430.7 L86.5,432.0 L87.5,433.3 L88.5,434.6 L89.5,435.8 L90.5,437.0 L91.5,438.2 L92.5,439.3 L93.5,440.3 L94.5,441.2 L95.5,442.1 L96.5,442.9 L97.5,443.6 L98.5,444.2 L99.5,444.7 L100.5,445.1 L101.5,445.3 L102.5,445.3 L103.5,445.2 L104.5,444.9 L105.5,444.4 L106.5,443.7 L107.5,442.8 L108.5,441.8 L109.5,440.7 L110.5,439.5 L111.5,438.3 L112.5,437.2 L113.5,436.1 L114.5,435.1 L115.5,434.2 L116.5,433.3 L117.5,432.6 L118.5,431.9 L119.5,431.3 L120.5,430.8 L121.5,430.3 L122.5,430.0 L123.5,429.7 L124.5,429.6 L125.5,429.6 L126.5,429.7 L127.5,429.9 L128.5,430.2 L129.5,430.7 L130.5,431.3 L131.5,432.0 L132.5,432.8 L133.5,433.7 L134.5,434.7 L135.5,435.8 L136.5,437.0 L137.5,438.3 L138.5,439.6 L139.5,440.9 L140.5,442.3 L141.5,443.7 L142.5,445.1 L143.5,446.5 L144.5,447.8 L145.5,449.0 L146.5,450.2 L147.5,451.3 L148.5,452.3 L149.5,453.3 L150.5,454.1 L151.5,454.9 L152.5,455.6 L153.5,456.3 L154.5,456.8 L155.5,457.3 L156.5,457.8 L157.5,458.2 L158.5,458.5 L159.5,458.8 L160.5,459.0 L161.5,459.1 L162.5,459.2 L163.5,459.2 L164.5,459.1 L165.5,458.9 L166.5,458.6 L167.5,458.3 L168.5,457.9 L169.5,457.6 L170.5,457.2 L171.5,456.8 L172.5,456.4 L173.5,456.0 L174.5,455.7 L175.5,455.4 L176.5,455.1 L177.5,454.9 L178.5,454.7 L179.5,454.5 L180.5,454.4 L181.5,454.3 L182.5,454.3 L183.5,454.3 L184.5,454.4 L185.5,454.6 L186.5,454.8 L187.5,455.1 L188.5,455.6 L189.5,456.1 L190.5,456.6 L191.5,457.3 L192.5,458.0 L193.5,458.8 L194.5,459.7 L195.5,460.6 L196.5,461.6 L197.5,462.6 L198.5,463.6 L199.5,464.7 L200.5,465.7 L201.5,466.7 L202.4,467.6 L203.4,468.5 L204.4,469.3 L205.4,470.0 L206.4,470.6 L207.4,471.1 L208.4,471.5 L209.4,471.8 L210.4,472.0 L211.4,472.0 L212.4,472.0 L213.4,471.9 L214.4,471.7 L215.4,471.4 L216.4,471.0 L217.4,470.4 L218.4,469.8 L219.4,469.1 L220.4,468.3 L221.4,467.4 L222.4,466.3 L223.4,465.2 L224.4,464.0 L225.4,462.7 L226.4,461.3 L227.4,459.8 L228.4,458.1 L229.4,456.4 L230.4,454.5 L231.4,452.6 L232.4,450.5 L233.4,448.3 L234.4,446.0 L235.4,443.6 L236.4,441.1 L237.4,438.5 L238.4,435.8 L239.4,432.8 L240.4,429.6 L241.4,426.2 L242.4,422.5 L243.4,418.6 L244.4,414.6 L245.4,410.4 L246.4,406.1 L247.4,401.8 L248.4,397.5 L249.4,393.3 L250.4,389.1 L251.4,385.1 L252.4,381.3 L253.4,377.6 L254.4,374.0 L255.4,370.7 L256.4,367.4 L257.4,364.1 L258.4,360.9 L259.4,357.7 L260.4,354.5 L261.4,351.2 L262.4,347.9 L263.4,344.6 L264.4,341.2 L265.4,337.8 L266.4,334.4 L267.4,331.1 L268.4,327.8 L269.4,324.6 L270.4,321.4 L271.4,318.3 L272.4,315.3 L273.4,312.4 L274.4,309.6 L275.4,306.8 L276.4,304.1 L277.4,301.5 L278.4,298.9 L279.4,296.3 L280.4,293.7 L281.4,291.2 L282.4,288.6 L283.4,286.2 L284.4,283.7 L285.4,281.3 L286.4,279.1 L287.4,276.9 L288.4,274.8 L289.4,272.9 L290.4,271.0 L291.4,269.4 L292.4,267.8 L293.4,266.2 L294.4,264.8 L295.4,263.3 L296.4,261.8 L297.4,260.2 L298.4,258.6 L299.4,257.0 L300.4,255.4 L301.4,253.9 L302.4,252.4 L303.4,251.1 L304.4,249.9 L305.4,248.7 L306.4,247.7 L307.4,246.8 L308.4,246.0 L309.4,245.3 L310.4,244.6 L311.4,244.0 L312.4,243.5 L313.4,242.9 L314.4,242.3 L315.4,241.6 L316.4,240.9 L317.4,240.2 L318.4,239.3 L319.4,238.4 L320.4,237.3 L321.4,236.1 L322.4,234.9 L323.4,233.5 L324.4,232.2 L325.4,230.8 L326.4,229.3 L327.4,228.0 L328.4,226.7 L329.4,225.4 L330.4,224.3 L331.4,223.2 L332.4,222.2 L333.4,221.2 L334.4,220.3 L335.4,219.4 L336.4,218.6 L337.4,217.8 L338.4,217.0 L339.4,216.2 L340.4,215.4 L341.4,214.6 L342.4,213.8 L343.4,213.0 L344.4,212.1 L345.4,211.3 L346.4,210.4 L347.4,209.5 L348.4,208.6 L349.4,207.6 L350.4,206.5 L351.4,205.4 L352.4,204.3 L353.4,203.2 L354.4,202.0 L355.4,200.7 L356.4,199.5 L357.4,198.2 L358.4,197.0 L359.4,195.7 L360.4,194.5 L361.4,193.3 L362.4,192.1 L363.4,190.9 L364.4,189.8 L365.4,188.8 L366.4,187.8 L367.4,186.9 L368.4,186.0 L369.4,185.1 L370.4,184.3 L371.4,183.5 L372.4,182.7 L373.4,182.1 L374.4,181.6 L375.4,181.3 L376.4,181.2 L377.4,181.2 L378.4,181.4 L379.4,181.7 L380.4,182.2 L381.4,182.6 L382.4,183.2 L383.4,183.7 L384.4,184.3 L385.4,184.8 L386.4,185.3 L387.4,185.7 L388.4,186.1 L389.4,186.3 L390.4,186.5 L391.4,186.6 L392.4,186.5 L393.4,186.4 L394.4,186.1 L395.4,185.7 L396.4,185.3 L397.4,184.7 L398.4,184.1 L399.4,183.5 L400.4,182.7 L401.4,181.9 L402.4,181.1 L403.4,180.1 L404.4,179.2 L405.4,178.2 L406.4,177.2 L407.4,176.1 L408.4,175.0 L409.4,173.8 L410.4,172.7 L411.4,171.4 L412.4,170.1 L413.4,168.8 L414.4,167.3 L415.4,165.7 L416.4,164.0 L417.4,162.1 L418.4,160.1 L419.4,157.9 L420.4,155.6 L421.4,153.1 L422.4,150.4 L423.4,147.7 L424.4,144.8 L425.4,141.9 L426.4,139.0 L427.4,135.9 L428.4,132.9 L429.4,129.9 L430.4,126.9 L431.4,124.0 L432.4,121.1 L433.4,118.4 L434.4,115.8 L435.4,113.3 L436.4,111.1 L437.4,109.2 L438.4,107.4 L439.4,105.9 L440.4,104.6 L441.4,103.5 L442.4,102.7 L443.4,102.1 L444.4,101.8 L445.4,101.6 L446.4,101.6 L447.4,101.8 L448.4,102.2 L449.4,102.7 L450.4,103.2 L451.4,103.8 L452.4,104.4 L453.4,104.9 L454.4,105.4 L455.4,105.8 L456.4,106.2 L457.4,106.5 L458.4,106.8 L459.4,107.0 L460.4,107.2 L461.4,107.3 L462.4,107.3 L463.4,107.3 L464.4,107.2 L465.4,107.1 L466.4,107.0 L467.4,106.8 L468.4,106.7 L469.4,106.6 L470.4,106.5 L471.4,106.4 L472.4,106.4 L473.4,106.4 L474.4,106.4 L475.4,106.5 L476.4,106.7 L477.4,106.9 L478.4,107.1 L479.4,107.3 L480.4,107.6 L481.4,107.9 L482.4,108.3 L483.4,108.6 L484.4,109.0 L485.4,109.4 L486.4,109.8 L487.4,110.2 L488.4,110.6 L489.4,111.1 L490.4,111.5 L491.4,112.0 L492.4,112.4 L493.4,112.9 L494.4,113.4 L495.4,113.9 L496.4,114.6 L497.4,115.3 L498.4,116.1 L499.4,117.0 L500.4,118.1 L501.4,119.4 L502.4,120.7 L503.4,122.2 L504.4,123.7 L505.4,125.4 L506.4,127.0 L507.4,128.8 L508.4,130.5 L509.4,132.3 L510.4,134.0 L511.4,135.8 L512.4,137.5 L513.4,139.2 L514.4,140.8 L515.4,142.4 L516.4,144.0 L517.4,145.4 L518.4,146.8 L519.3,148.1 L520.3,149.3 L521.3,150.5 L522.3,151.5 L523.3,152.5 L524.3,153.4 L525.3,154.2 L526.3,155.0 L527.3,155.7 L528.3,156.3 L529.3,156.9 L530.3,157.5 L531.3,158.1 L532.3,158.6 L533.3,159.1 L534.3,159.5 L535.3,159.9 L536.3,160.4 L537.3,160.7 L538.3,161.1 L539.3,161.5 L540.3,161.8 L541.3,162.1 L542.3,162.5 L543.3,162.8 L544.3,163.0 L545.3,163.3 L546.3,163.5 L547.3,163.7 L548.3,163.9 L549.3,164.1 L550.3,164.2 L551.3,164.2 L552.3,164.2 L553.3,164.2 L554.3,164.1 L555.3,164.0 L556.3,163.9 L557.3,163.7 L558.3,163.6 L559.3,163.4 L560.3,163.3 L561.3,163.2 L562.3,163.2 L563.3,163.2 L564.3,163.3 L565.3,163.4 L566.3,163.6 L567.3,163.9 L568.3,164.3 L569.3,164.7 L570.3,165.2 L571.3,165.8 L572.3,166.5 L573.3,167.3 L574.3,168.1 L575.3,169.0 L576.3,170.0 L577.3,171.0 L578.3,172.0 L579.3,173.1 L580.3,174.2 L581.3,175.2 L582.3,176.3 L583.3,177.3 L584.3,178.2 L585.3,179.1 L586.3,180.0 L587.3,180.8 L588.3,181.5 L589.3,182.3 L590.3,183.1 L591.3,183.8 L592.3,184.6 L593.3,185.4 L594.3,186.2 L595.3,187.1 L596.3,188.0 L597.3,189.0 L598.3,190.1 L599.3,191.2 L600.3,192.5 L601.3,193.8 L602.3,195.2 L603.3,196.8 L604.3,198.4 L605.3,200.2 L606.3,202.0 L607.3,203.9 L608.3,205.9 L609.3,207.9 L610.3,209.9 L611.3,211.9 L612.3,214.0 L613.3,216.0 L614.3,217.9 L615.3,219.8 L616.3,221.7 L617.3,223.5 L618.3,225.2 L619.3,226.9 L620.3,228.4 L621.3,229.9 L622.3,231.3 L623.3,232.7 L624.3,233.9 L625.3,235.1 L626.3,236.3 L627.3,237.4 L628.3,238.4 L629.3,239.5 L630.3,240.5 L631.3,241.4 L632.3,242.4 L633.3,243.4 L634.3,244.4 L635.3,245.5 L636.3,246.6 L637.3,247.7 L638.3,248.9 L639.3,250.1 L640.3,251.4 L641.3,252.7 L642.3,254.2 L643.3,255.7 L644.3,257.2 L645.3,258.8 L646.3,260.5 L647.3,262.2 L648.3,263.9 L649.3,265.7 L650.3,267.5 L651.3,269.2 L652.3,270.9 L653.3,272.6 L654.3,274.2 L655.3,275.7 L656.3,277.1 L657.3,278.3 L658.3,279.3 L659.3,280.1 L660.3,280.6 L661.3,280.9 L662.3,280.8 L663.3,280.4 L664.3,279.8 L665.3,278.8 L666.3,277.6 L667.3,276.1 L668.3,274.5 L669.3,272.7 L670.3,270.9 L671.3,269.1 L672.3,267.2 L673.3,265.4 L674.3,263.6 L675.3,261.9 L676.3,260.2 L677.3,258.5"/>
</g>
<text class="tick" x="43.5" y="530" text-anchor="middle">-0.2</text>
<text class="tick" x="150.0" y="530" text-anchor="middle">0</text>
<text class="tick" x="256.5" y="530" text-anchor="middle">0.2</text>
<text class="tick" x="363.0" y="530" text-anchor="middle">0.4</text>
<text class="tick" x="469.5" y="530" text-anchor="middle">0.6</text>
<text class="tick" x="576.0" y="530" text-anchor="middle">0.8</text>
<text class="tick" x="37.0" y="515.8" text-anchor="end">-5</text>
<text class="tick" x="37.0" y="453.0" text-anchor="end">0</text>
<text class="tick" x="37.0" y="390.2" text-anchor="end">5</text>
<text class="tick" x="37.0" y="327.3" text-anchor="end">10</text>
<text class="tick" x="37.0" y="264.5" text-anchor="end">15</text>
<text class="tick" x="37.0" y="201.7" text-anchor="end">20</text>
<text class="tick" x="37.0" y="138.8" text-anchor="end">25</text>
<text class="tick" x="37.0" y="76.0" text-anchor="end">30</text>
<text class="tick" x="37.0" y="13.2" text-anchor="end">35</text>
<text class="axl" style="font-size:13.5px" x="313.9" y="549" textLength="96.3" lengthAdjust="spacing">Time (seconds)</text>
<text class="axl" style="font-size:14.35px" transform="translate(14.4,259) rotate(-90)" text-anchor="middle">Percentage Compensation</text>
<text class="leg" x="226.7" y="32" textLength="67.8" lengthAdjust="spacingAndGlyphs">Perturbation</text>
<path d="M158,37.4 L354,37.4" stroke="#222" stroke-width="1" fill="none"/>
<path d="M150.6,37.4 L165.6,31.80 L161.2,37.4 L165.6,43.00 Z" fill="#000"/>
<path d="M361.2,37.4 L346.2,31.80 L350.59999999999997,37.4 L346.2,43.00 Z" fill="#000"/>
<g stroke="#000" fill="none">
<path d="M71.7,63.9 H105" stroke-width="2.8"/>
<path d="M70.3,109.7 H105" stroke-width="1" stroke="#333"/>
<path d="M72.9,164.2 H84.1 M96,164.2 H107.1" stroke-width="2.9"/>
<path d="M72.9,211.5 H86 M95.2,211.5 H107.6" stroke-width="1" stroke="#444"/>
</g>
<text class="leg" x="118.8" y="70.4" textLength="136.8" lengthAdjust="spacingAndGlyphs">16p11.2 Del Carrier Mean</text>
<text class="leg" x="118.8" y="113.3" textLength="156.5" lengthAdjust="spacingAndGlyphs">16p11.2 Del Carrier Standard</text>
<text class="leg" x="118.8" y="127.7" textLength="27.9" lengthAdjust="spacingAndGlyphs">Error</text>
<text class="leg" x="118.8" y="170.3" textLength="121.5" lengthAdjust="spacingAndGlyphs">Pooled Controls Mean</text>
<text class="leg" x="118.8" y="213.4" textLength="88.2" lengthAdjust="spacingAndGlyphs">Pooled Controls</text>
<text class="leg" x="121.5" y="227.5" textLength="80.8" lengthAdjust="spacingAndGlyphs">Standard Error</text>
</svg>
</body>
</html>
